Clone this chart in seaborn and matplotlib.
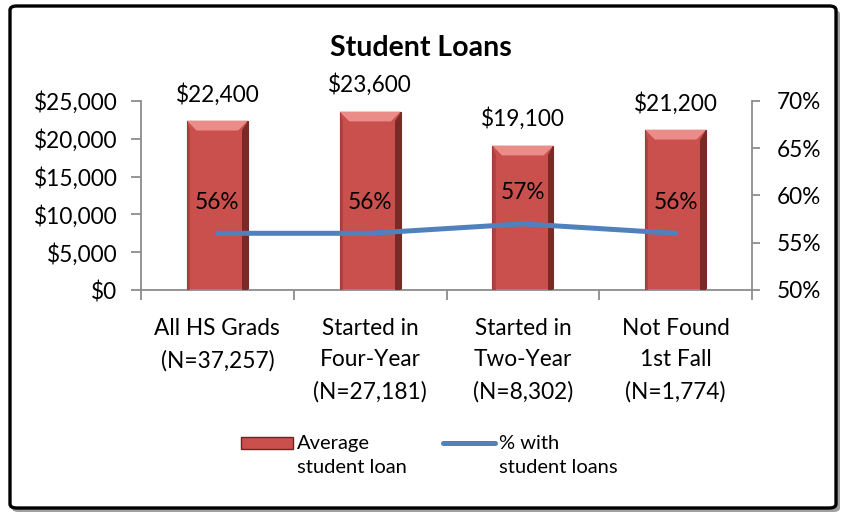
import matplotlib
matplotlib.use("Agg")
import matplotlib.pyplot as plt
import seaborn as sns
import pandas as pd
import numpy as np
from matplotlib.patches import FancyBboxPatch, Rectangle, Polygon
from matplotlib.lines import Line2D
from matplotlib.ticker import FuncFormatter, MultipleLocator

categories = ["All HS Grads\n(N=37,257)", "Started in\nFour-Year\n(N=27,181)",
              "Started in\nTwo-Year\n(N=8,302)", "Not Found\n1st Fall\n(N=1,774)"]
avg_loan = [22400, 23600, 19100, 21200]
pct_with_loans = [56, 56, 57, 56]
legend_labels = ["Average\nstudent loan", "% with\nstudent loans"]

sns.set_theme(style="white")
plt.rcParams['font.family'] = ['Lato', 'DejaVu Sans']
plt.rcParams['text.color'] = 'black'
plt.rcParams['xtick.color'] = 'black'
plt.rcParams['ytick.color'] = 'black'

BAR = "#C9504D"
LINE = "#4F81BD"
GREY = "#8c8c8c"
FS = 16.3

df = pd.DataFrame({"cat": categories, "loan": avg_loan, "pct": pct_with_loans})

fig = plt.figure(figsize=(8.42, 5.14), dpi=100)
W, H = 842, 514
shadow = FancyBboxPatch((12/W, 2/H), 828/W, 502/H, boxstyle="round,pad=0,rounding_size=0.008",
                        transform=fig.transFigure, facecolor="#a0a0a0", edgecolor="none", zorder=-3)
border = FancyBboxPatch((10/W, 6/H), 826/W, 502/H, boxstyle="round,pad=0,rounding_size=0.008",
                        transform=fig.transFigure, facecolor="white", edgecolor="black", linewidth=2.4, zorder=-2)
fig.patches.extend([shadow, border])

ax = fig.add_axes([141/W, 1-290/H, 611/W, 189/H])
ax.set_facecolor("none")
sns.barplot(data=df, x="cat", y="loan", ax=ax, color=BAR, width=0.4,
            edgecolor="#7a2a28", linewidth=0.8, saturation=1)
ax.set_ylim(0, 25000)
ax.set_xlim(-0.5, 3.5)
ax.yaxis.set_major_locator(MultipleLocator(5000))
ax.yaxis.set_major_formatter(FuncFormatter(lambda v, p: f"${v:,.0f}"))
ax.set_xlabel("")
ax.set_ylabel("")
for s in ["top", "right"]:
    ax.spines[s].set_visible(False)
for s in ["left", "bottom"]:
    ax.spines[s].set_color(GREY)
    ax.spines[s].set_linewidth(1.3)
ax.tick_params(axis="y", which="both", left=True, length=7, width=1.3, color=GREY, labelsize=FS, pad=10)
ax.tick_params(axis="x", bottom=False, labelsize=FS, pad=14)
ax.set_xticks(range(4))
ax.set_xticklabels(categories, linespacing=1.62, va="top")
ax.set_xticks(np.arange(-0.5, 4.0, 1.0), minor=True)
ax.tick_params(axis="x", which="minor", bottom=True, length=7, width=1.3, color=GREY, direction="out")

# bevel effects on bars
for p in list(ax.patches):
    x0, w, h = p.get_x(), p.get_width(), p.get_height()
    bv = 1300  # bevel height in data units
    bx = w * 0.16
    ax.add_patch(Polygon([(x0, h), (x0 + w, h), (x0 + w - bx, h - bv), (x0 + bx, h - bv)],
                         closed=True, facecolor="#ec8c88", edgecolor="none", zorder=3))
    ax.add_patch(Polygon([(x0 + w, h), (x0 + w, 0), (x0 + w - bx*0.6, 0), (x0 + w - bx*0.6, h - bv)],
                         closed=True, facecolor="#6e2321", edgecolor="none", zorder=3, alpha=0.85))
    ax.add_patch(Polygon([(x0, h), (x0, 0), (x0 + bx*0.35, 0), (x0 + bx*0.35, h - bv)],
                         closed=True, facecolor="#a8403d", edgecolor="none", zorder=3, alpha=0.8))
for i, v in enumerate(avg_loan):
    ax.annotate(f"${v:,.0f}", (i, v), xytext=(0, 11), textcoords="offset points",
                ha="center", va="bottom", fontsize=FS, color="black")

ax2 = ax.twinx()
sns.lineplot(x=list(range(4)), y=pct_with_loans, ax=ax2, color=LINE, linewidth=3.6)
ax2.set_ylim(50, 70)
ax2.set_xlim(-0.5, 3.5)
ax2.yaxis.set_major_locator(MultipleLocator(5))
ax2.yaxis.set_major_formatter(FuncFormatter(lambda v, p: f"{v:.0f}%"))
for s in ["top", "left", "bottom"]:
    ax2.spines[s].set_visible(False)
ax2.spines["right"].set_color(GREY)
ax2.spines["right"].set_linewidth(1.3)
ax2.tick_params(axis="y", right=True, length=6, width=1.3, color=GREY, labelsize=FS, pad=12)
for i, v in enumerate(pct_with_loans):
    ax2.annotate(f"{v}%", (i, v), xytext=(0, 22.5), textcoords="offset points",
                 ha="center", va="center", fontsize=FS, color="black")

fig.text(0.5, 1-48/H, "Student Loans", ha="center", va="center", fontsize=20.5, fontweight="bold")

# legend (drawn as figure-level legend keys)
lf = 14.5
fig.patches.append(Rectangle((241/W, 1-449/H), 52/W, 12/H, transform=fig.transFigure,
                             facecolor=BAR, edgecolor="#6e2321", linewidth=1.0))
fig.text(297/W, 1-435/H, legend_labels[0], ha="left", va="top", fontsize=lf, linespacing=1.5)
fig.lines.append(Line2D([443/W, 495/W], [1-443/H, 1-443/H], transform=fig.transFigure,
                        color=LINE, linewidth=3.6, solid_capstyle="round"))
fig.text(499/W, 1-435/H, legend_labels[1], ha="left", va="top", fontsize=lf, linespacing=1.5)

fig.savefig("out.png", dpi=100)
